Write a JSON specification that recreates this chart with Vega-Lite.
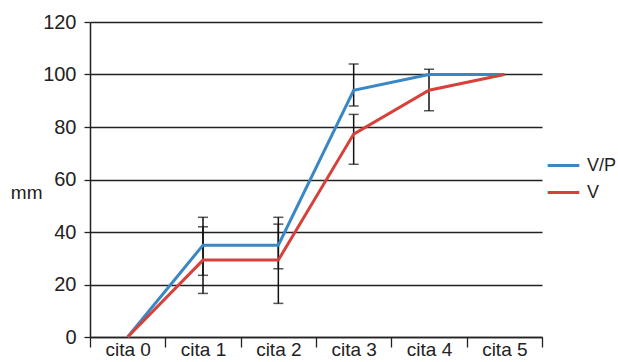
{
  "$schema": "https://vega.github.io/schema/vega-lite/v6.json",
  "autosize": "none",
  "width": 452,
  "height": 315,
  "padding": {"left": 90, "top": 22, "right": 76, "bottom": 25},
  "background": "white",
  "config": {
    "font": "Liberation Sans",
    "view": {"stroke": null},
    "axis": {"labelFont": "Liberation Sans", "titleFont": "Liberation Sans", "labelColor": "#222", "titleColor": "#222"},
    "legend": {"labelFont": "Liberation Sans"}
  },
  "data": {
    "values": [
      {"cita": "cita 0", "serie": "V/P", "mm": 0, "lo": null, "hi": null},
      {"cita": "cita 1", "serie": "V/P", "mm": 35, "lo": 23.5, "hi": 45.6},
      {"cita": "cita 2", "serie": "V/P", "mm": 35, "lo": 26, "hi": 43},
      {"cita": "cita 3", "serie": "V/P", "mm": 94, "lo": 88, "hi": 104},
      {"cita": "cita 4", "serie": "V/P", "mm": 100, "lo": null, "hi": null},
      {"cita": "cita 5", "serie": "V/P", "mm": 100, "lo": null, "hi": null},
      {"cita": "cita 0", "serie": "V", "mm": 0, "lo": null, "hi": null},
      {"cita": "cita 1", "serie": "V", "mm": 29.3, "lo": 16.6, "hi": 42},
      {"cita": "cita 2", "serie": "V", "mm": 29.3, "lo": 12.8, "hi": 45.6},
      {"cita": "cita 3", "serie": "V", "mm": 77.3, "lo": 65.8, "hi": 84.8},
      {"cita": "cita 4", "serie": "V", "mm": 94, "lo": 86.2, "hi": 102},
      {"cita": "cita 5", "serie": "V", "mm": 100, "lo": null, "hi": null}
    ]
  },
  "encoding": {
    "x": {
      "field": "cita",
      "type": "ordinal",
      "scale": {"type": "band", "paddingInner": 0, "paddingOuter": 0},
      "axis": {
        "title": null,
        "labelAngle": 0,
        "labelFontSize": 19,
        "labelPadding": -7,
        "tickBand": "extent",
        "tickSize": 10,
        "tickColor": "#222",
        "tickWidth": 1.3,
        "domainColor": "#222",
        "domainWidth": 1.3,
        "grid": false
      }
    }
  },
  "layer": [
    {
      "mark": {"type": "rule"},
      "encoding": {
        "y": {
          "field": "mm",
          "type": "quantitative",
          "title": "mm",
          "scale": {"domain": [0, 120]},
          "axis": {
            "title": "mm",
            "titleAngle": 0,
            "titleFontSize": 19,
            "titleFontWeight": "normal",
            "titleAlign": "right",
            "titleBaseline": "middle",
            "titleX": -48,
            "titleY": 170,
            "values": [0, 20, 40, 60, 80, 100, 120],
            "labelFontSize": 20,
            "labelPadding": 8,
            "tickSize": 6,
            "tickColor": "#222",
            "tickWidth": 1.3,
            "domainColor": "#222",
            "domainWidth": 1.5,
            "grid": true,
            "gridColor": "#222",
            "gridWidth": 1.3,
            "gridOpacity": 1
          }
        },
        "y2": {"field": "mm"},
        "opacity": {"value": 0}
      }
    },
    {
      "transform": [{"filter": "datum.lo != null"}],
      "mark": {
        "type": "errorbar",
        "color": "#111",
        "thickness": 1.5,
        "ticks": {"size": 10, "thickness": 1.5, "color": "#111"}
      },
      "encoding": {
        "y": {"field": "lo", "type": "quantitative", "title": "mm"},
        "y2": {"field": "hi"}
      }
    },
    {
      "mark": {"type": "line", "strokeWidth": 3},
      "encoding": {
        "y": {"field": "mm", "type": "quantitative", "title": "mm"},
        "color": {
          "field": "serie",
          "type": "nominal",
          "scale": {"domain": ["V/P", "V"], "range": ["#3a87c6", "#d6423b"]},
          "legend": {
            "title": null,
            "orient": "none",
            "legendX": 456,
            "legendY": 126,
            "symbolType": "stroke",
            "symbolStrokeWidth": 3,
            "symbolSize": 1000,
            "labelFontSize": 18,
            "labelColor": "#222",
            "labelOffset": 6,
            "rowPadding": 0
          }
        },
        "order": {"field": "cita"}
      }
    }
  ]
}
